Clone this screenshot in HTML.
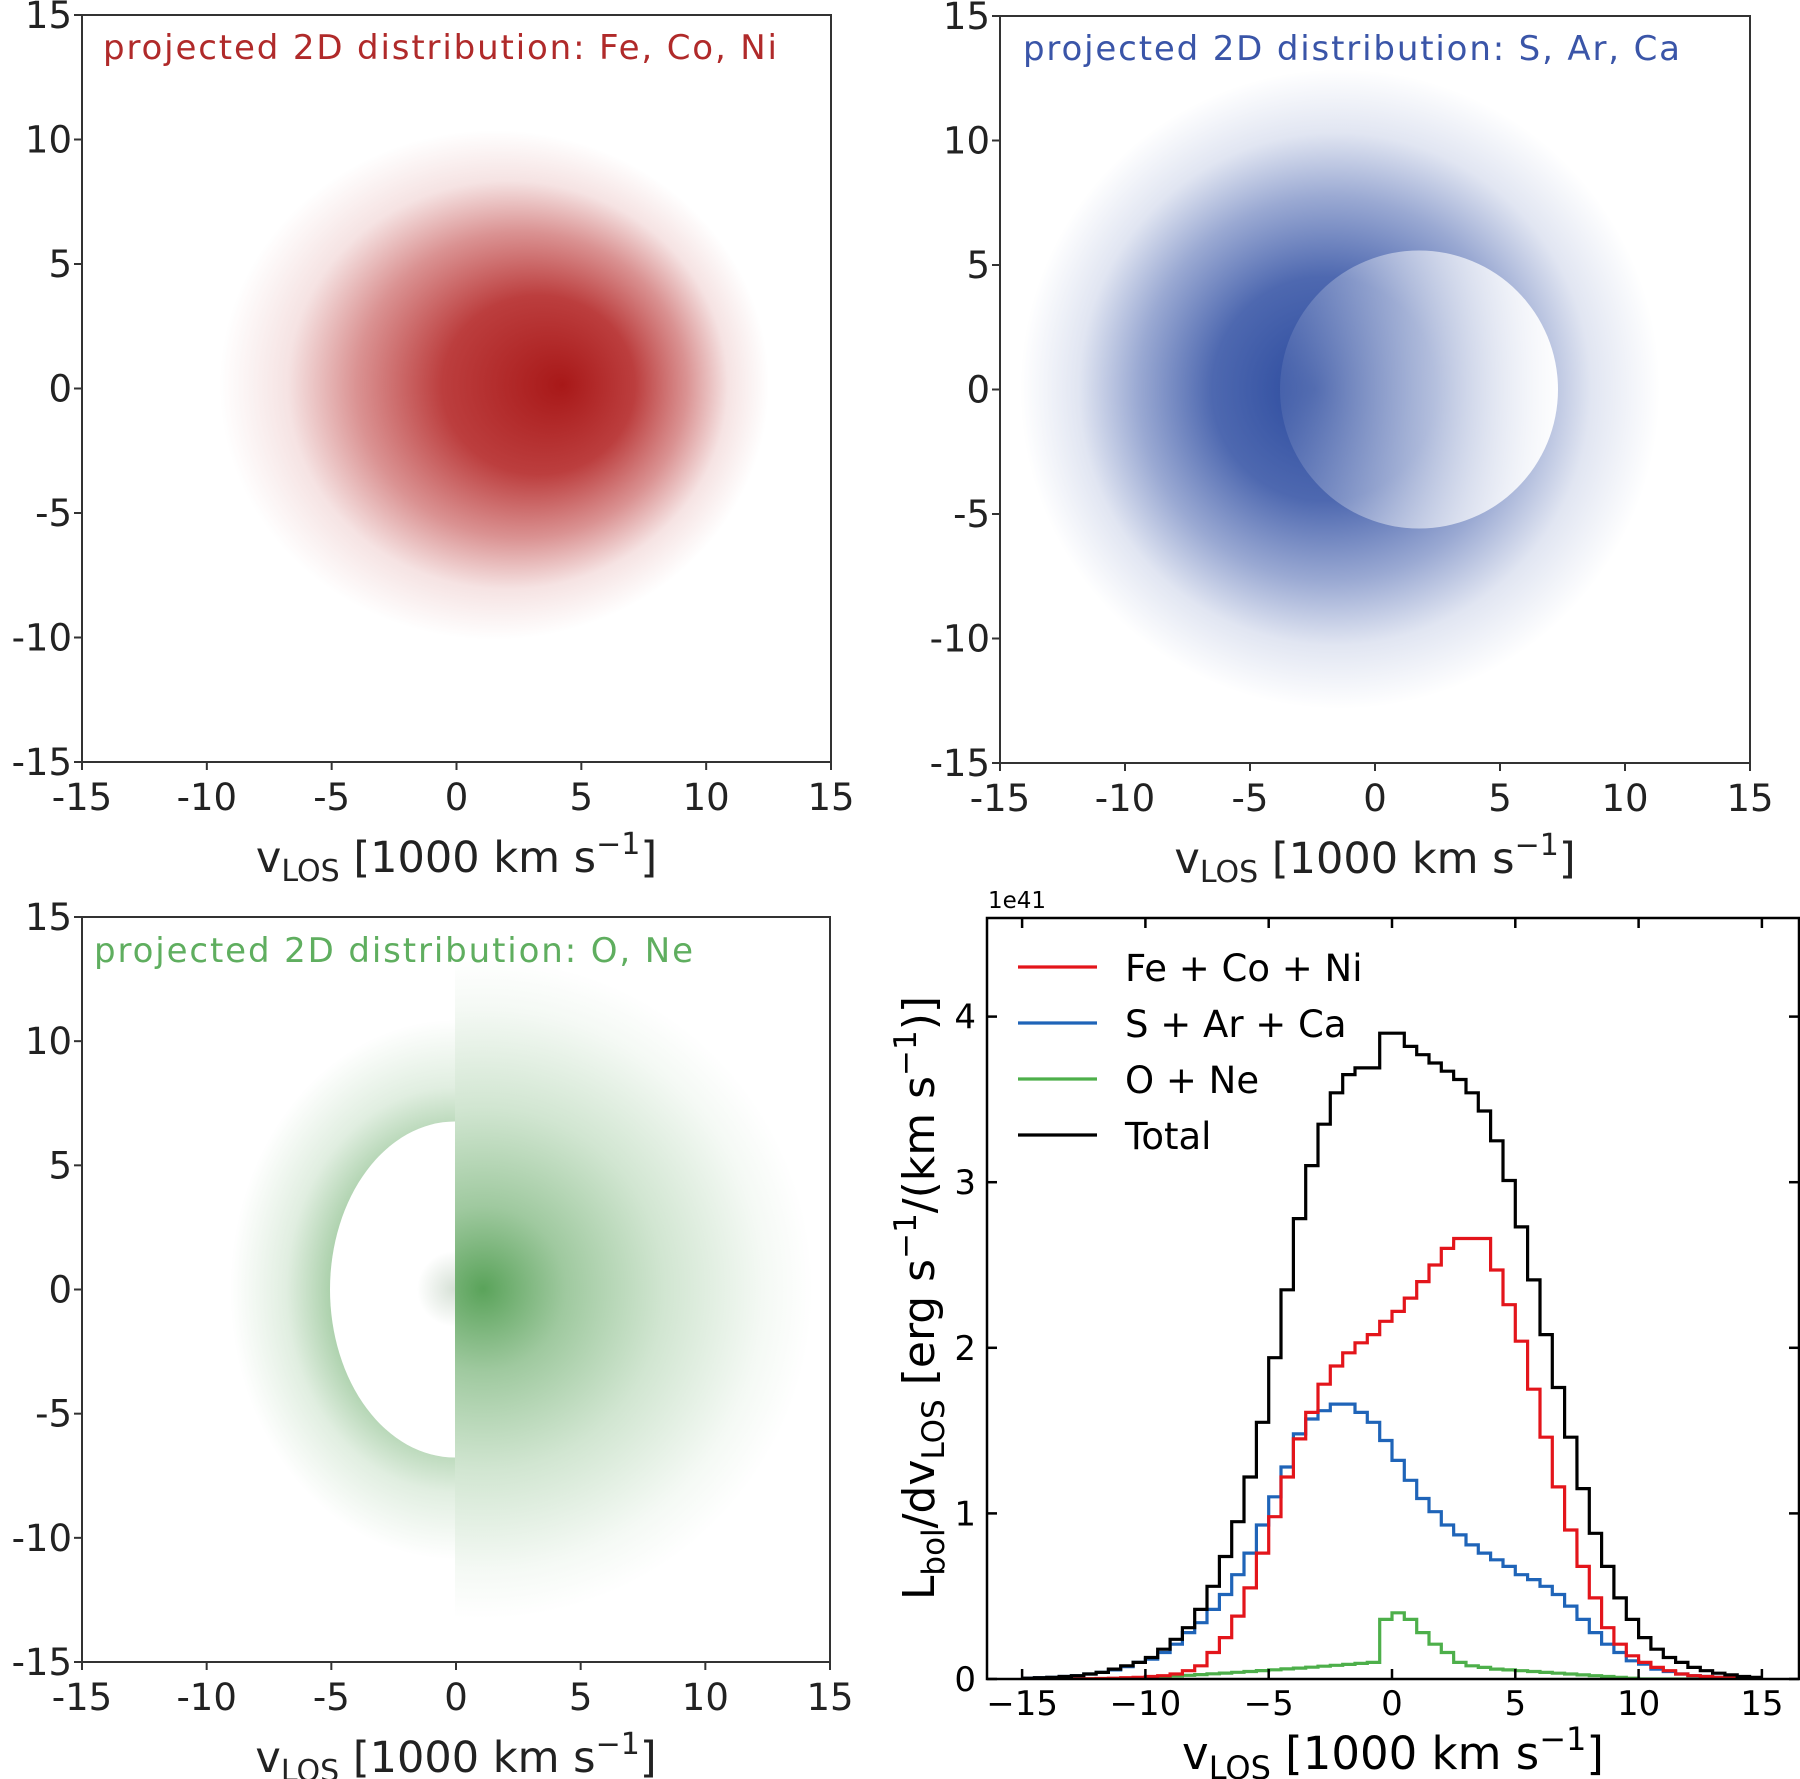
<!DOCTYPE html>
<html><head><meta charset="utf-8"><style>
html,body{margin:0;padding:0;background:#fff}
svg{display:block}
text{font-family:"DejaVu Sans","Liberation Sans",sans-serif}
</style></head><body>
<svg id="s" width="1800" height="1779" viewBox="0 0 1800 1779" xmlns="http://www.w3.org/2000/svg">
<defs>
<radialGradient id="gr" gradientUnits="userSpaceOnUse" cx="0" cy="0" r="1" fx="0.25" fy="0" gradientTransform="translate(494 385) scale(275 255)">
<stop offset="0" stop-color="#a81818" stop-opacity="1"/>
<stop offset="0.35" stop-color="#b01c1c" stop-opacity="0.85"/>
<stop offset="0.6" stop-color="#b52525" stop-opacity="0.5"/>
<stop offset="0.8" stop-color="#b52525" stop-opacity="0.13"/>
<stop offset="1" stop-color="#b52525" stop-opacity="0"/>
</radialGradient>
<radialGradient id="gb" gradientUnits="userSpaceOnUse" cx="1340" cy="389" r="320" fx="1315" fy="389">
<stop offset="0" stop-color="#2b4a9e" stop-opacity="1"/>
<stop offset="0.35" stop-color="#2f4ea2" stop-opacity="0.85"/>
<stop offset="0.6" stop-color="#3553a6" stop-opacity="0.5"/>
<stop offset="0.8" stop-color="#3553a6" stop-opacity="0.15"/>
<stop offset="1" stop-color="#3553a6" stop-opacity="0"/>
</radialGradient>
<linearGradient id="gbi" gradientUnits="userSpaceOnUse" x1="1280" y1="0" x2="1558" y2="0">
<stop offset="0" stop-color="#fff" stop-opacity="0.08"/>
<stop offset="1" stop-color="#fff" stop-opacity="0.97"/>
</linearGradient>
<radialGradient id="gg" gradientUnits="userSpaceOnUse" cx="483" cy="1289" r="330">
<stop offset="0" stop-color="#5aa35a" stop-opacity="1"/>
<stop offset="0.25" stop-color="#5fa55f" stop-opacity="0.6"/>
<stop offset="0.55" stop-color="#66aa66" stop-opacity="0.3"/>
<stop offset="0.85" stop-color="#66aa66" stop-opacity="0.07"/>
<stop offset="1" stop-color="#66aa66" stop-opacity="0"/>
</radialGradient>
<radialGradient id="gring" gradientUnits="userSpaceOnUse" cx="0" cy="0" r="1" gradientTransform="translate(455 1289.5) scale(225 270)">
<stop offset="0" stop-color="#66aa66" stop-opacity="0"/>
<stop offset="0.55" stop-color="#66aa66" stop-opacity="0.55"/>
<stop offset="0.75" stop-color="#66aa66" stop-opacity="0.2"/>
<stop offset="1" stop-color="#66aa66" stop-opacity="0"/>
</radialGradient>
<radialGradient id="gsm" gradientUnits="userSpaceOnUse" cx="455" cy="1289" r="38">
<stop offset="0" stop-color="#8aa88a" stop-opacity="0.35"/>
<stop offset="1" stop-color="#8aa88a" stop-opacity="0"/>
</radialGradient>
<clipPath id="cr"><rect x="455" y="917" width="375" height="745"/></clipPath>
<clipPath id="cl"><rect x="82" y="917" width="373" height="745"/></clipPath>
<clipPath id="c4"><rect x="987" y="918" width="812" height="761"/></clipPath>
</defs>

<rect x="82" y="15" width="749" height="747" fill="url(#gr)"/>
<rect x="82" y="15" width="749" height="747" fill="none" stroke="#333" stroke-width="2"/>
<text x="103" y="59" font-size="34" fill="#b02a2a" textLength="674">projected 2D distribution: Fe, Co, Ni</text>
<rect x="1000" y="16" width="750" height="747" fill="url(#gb)"/>
<ellipse cx="1419" cy="389.5" rx="139" ry="139" fill="url(#gbi)"/>
<rect x="1000" y="16" width="750" height="747" fill="none" stroke="#333" stroke-width="2"/>
<text x="1023" y="60" font-size="34" fill="#3a55a8" textLength="657">projected 2D distribution: S, Ar, Ca</text>
<g clip-path="url(#cr)"><rect x="455" y="917" width="375" height="745" fill="url(#gg)"/></g>
<g clip-path="url(#cl)"><rect x="82" y="917" width="373" height="745" fill="url(#gring)"/>
<ellipse cx="455" cy="1289.5" rx="125" ry="168" fill="#fff"/>
<circle cx="455" cy="1289" r="38" fill="url(#gsm)"/></g>
<rect x="82" y="917" width="748" height="745" fill="none" stroke="#333" stroke-width="2"/>
<text x="94" y="962" font-size="34" fill="#5fae5f" textLength="599">projected 2D distribution: O, Ne</text>

<g id="heatax"></g>

<g clip-path="url(#c4)" fill="none" stroke-width="3.2" stroke-linejoin="miter">
<path id="pg" stroke="#4daf4a"/>
<path id="pb" stroke="#1f64b8"/>
<path id="pr" stroke="#e3151b"/>
<path id="pk" stroke="#000"/>
</g>
<rect x="987" y="918" width="812" height="761" fill="none" stroke="#000" stroke-width="2.5"/>
<g id="ax4"></g>
<text x="988" y="908" font-size="23" fill="#000">1e41</text>
<g stroke-width="3.2">
<line x1="1018" y1="967" x2="1097" y2="967" stroke="#e3151b"/>
<line x1="1018" y1="1023" x2="1097" y2="1023" stroke="#1f64b8"/>
<line x1="1018" y1="1079" x2="1097" y2="1079" stroke="#4daf4a"/>
<line x1="1018" y1="1135" x2="1097" y2="1135" stroke="#000"/>
</g>
<g font-size="37" fill="#000">
<text x="1125" y="981">Fe + Co + Ni</text>
<text x="1125" y="1037">S + Ar + Ca</text>
<text x="1125" y="1093">O + Ne</text>
<text x="1125" y="1149">Total</text>
</g>
<text transform="translate(934 1298) rotate(-90)" text-anchor="middle" font-size="44" fill="#000">L<tspan font-size="31" dy="10">bol</tspan><tspan dy="-10">/dv</tspan><tspan font-size="31" dy="10">LOS</tspan><tspan dy="-10"> [erg s</tspan><tspan font-size="31" dy="-18">−1</tspan><tspan dy="18">/(km s</tspan><tspan font-size="31" dy="-18">−1</tspan><tspan dy="18">)]</tspan></text>
<text x="1393" y="1769" text-anchor="middle" font-size="45" fill="#000">v<tspan font-size="32" dy="10">LOS</tspan><tspan dy="-10"> [1000 km s</tspan><tspan font-size="32" dy="-19">−1</tspan><tspan dy="19">]</tspan></text>
</svg>
<script>
var NS="http://www.w3.org/2000/svg";
function el(p,t,a,txt){var e=document.createElementNS(NS,t);for(var k in a)e.setAttribute(k,a[k]);if(txt!=null)e.textContent=txt;p.appendChild(e);return e;}
var ha=document.getElementById("heatax");
var panels=[[82,15,749,747],[1000,16,750,747],[82,917,748,745]];
var labs=["-15","-10","-5","0","5","10","15"];
panels.forEach(function(p){
 var x0=p[0],y0=p[1],w=p[2],h=p[3];
 for(var i=0;i<7;i++){
  var x=x0+i*w/6,y=y0+h-i*h/6;
  el(ha,"line",{x1:x,y1:y0+h,x2:x,y2:y0+h+8,stroke:"#333","stroke-width":2});
  el(ha,"line",{x1:x0-8,y1:y,x2:x0,y2:y,stroke:"#333","stroke-width":2});
  el(ha,"text",{x:x,y:y0+h+48,"text-anchor":"middle","font-size":37,fill:"#222"},labs[i]);
  el(ha,"text",{x:x0-10,y:y+13,"text-anchor":"end","font-size":37,fill:"#222"},labs[i]);
 }
 var t=el(ha,"text",{x:x0+w/2,y:y0+h+110,"text-anchor":"middle","font-size":43,fill:"#222"});
 t.innerHTML='v<tspan font-size="30" dy="9">LOS</tspan><tspan dy="-9"> [1000 km s</tspan><tspan font-size="30" dy="-18">−1</tspan><tspan dy="18">]</tspan>';
});
var a4=document.getElementById("ax4");
var X0=1392,SX=24.66,Y0=1679,SY=165.6;
[-15,-10,-5,0,5,10,15].forEach(function(v){
 var x=X0+v*SX;
 el(a4,"line",{x1:x,y1:Y0,x2:x,y2:Y0-10,stroke:"#000","stroke-width":2.5});
 el(a4,"line",{x1:x,y1:918,x2:x,y2:928,stroke:"#000","stroke-width":2.5});
 el(a4,"text",{x:x,y:1715,"text-anchor":"middle","font-size":34,fill:"#000"},(v<0?"−":"")+Math.abs(v));
});
[0,1,2,3,4].forEach(function(v){
 var y=Y0-v*SY;
 el(a4,"line",{x1:987,y1:y,x2:997,y2:y,stroke:"#000","stroke-width":2.5});
 el(a4,"line",{x1:1799,y1:y,x2:1789,y2:y,stroke:"#000","stroke-width":2.5});
 el(a4,"text",{x:976,y:y+12,"text-anchor":"end","font-size":34,fill:"#000"},""+v);
});
var K=[0.005,0.008,0.01,0.015,0.02,0.03,0.04,0.06,0.08,0.1,0.13,0.18,0.24,0.31,0.42,0.56,0.74,0.95,1.22,1.55,1.94,2.35,2.78,3.1,3.35,3.54,3.65,3.69,3.69,3.9,3.9,3.82,3.77,3.72,3.67,3.62,3.54,3.43,3.25,3.01,2.73,2.41,2.08,1.76,1.46,1.15,0.88,0.68,0.49,0.36,0.25,0.18,0.13,0.10,0.07,0.05,0.035,0.025,0.015,0.01];
var R=[0,0,0,0,0.001,0.002,0.003,0.005,0.008,0.01,0.015,0.02,0.03,0.05,0.08,0.16,0.25,0.38,0.55,0.76,0.98,1.22,1.45,1.61,1.78,1.89,1.97,2.03,2.08,2.16,2.22,2.30,2.40,2.50,2.60,2.66,2.66,2.66,2.47,2.26,2.04,1.75,1.46,1.16,0.90,0.68,0.49,0.31,0.21,0.14,0.1,0.07,0.05,0.03,0.02,0.015,0.01,0.008,0.005,0.003];
var B=[0.005,0.008,0.01,0.015,0.02,0.03,0.04,0.055,0.075,0.1,0.12,0.16,0.21,0.28,0.34,0.42,0.51,0.63,0.76,0.93,1.10,1.28,1.48,1.57,1.62,1.66,1.66,1.61,1.55,1.44,1.32,1.20,1.09,1.01,0.93,0.87,0.81,0.76,0.72,0.68,0.63,0.60,0.56,0.51,0.44,0.36,0.28,0.21,0.16,0.11,0.09,0.06,0.045,0.03,0.02,0.015,0.01,0.005,0.003,0.001];
var G=[];
for(var k=-30;k<30;k++){var v;
 if(k<-24)v=0;else if(k<=-2)v=0.1*Math.pow((k+24)/22,1.3);
 else {var m={"-1":0.36,"0":0.40,"1":0.36,"2":0.28,"3":0.21,"4":0.16,"5":0.10,"6":0.08,"7":0.07,"8":0.06};
  v=(m[k]!==undefined)?m[k]:Math.max(0,0.06-(k-8)*0.005);}
 G.push(v);}
function path(a){var d="";for(var i=0;i<60;i++){var xl=X0+(i-30)*0.5*SX,xr=xl+0.5*SX,y=Y0-a[i]*SY;
 d+=(i==0?"M":"L")+xl.toFixed(1)+","+y.toFixed(1)+"L"+xr.toFixed(1)+","+y.toFixed(1);}return d;}
document.getElementById("pk").setAttribute("d",path(K));
document.getElementById("pr").setAttribute("d",path(R));
document.getElementById("pb").setAttribute("d",path(B));
document.getElementById("pg").setAttribute("d",path(G));
</script>
</body></html>
